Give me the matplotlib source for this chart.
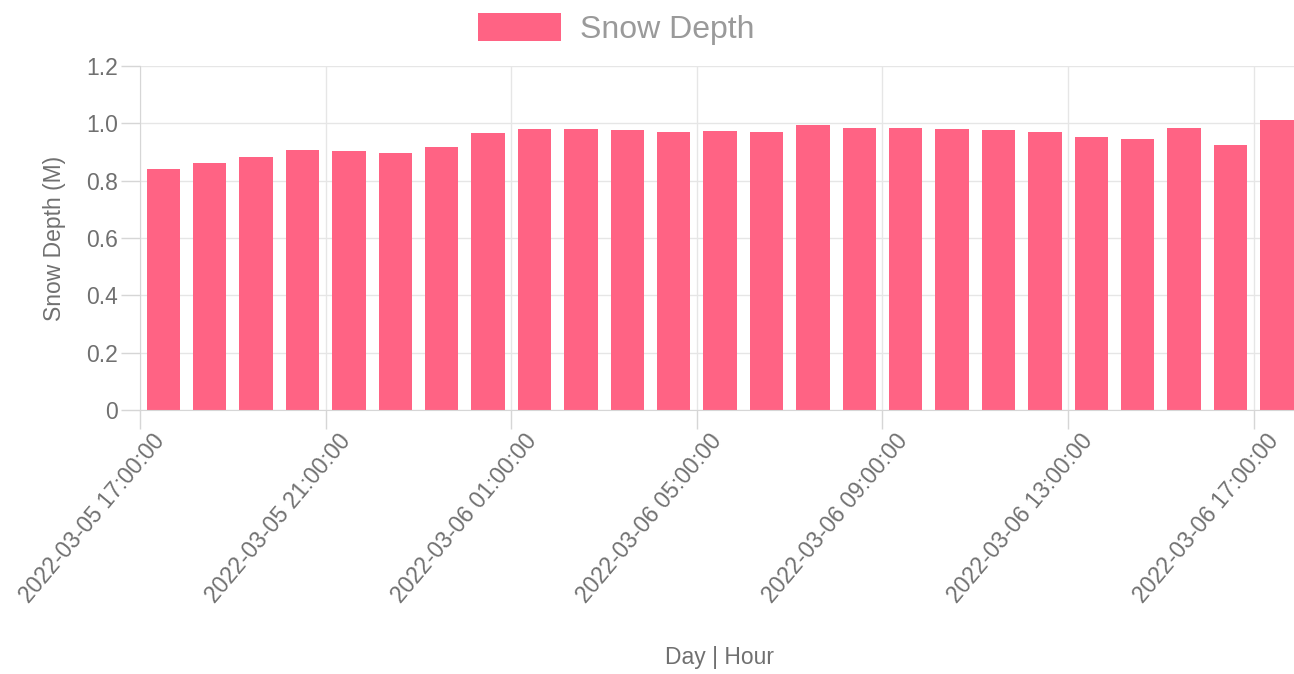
import matplotlib
matplotlib.use("Agg")
import matplotlib.pyplot as plt
import matplotlib.transforms as mtransforms
import numpy as np

# hourly snow depth, 2022-03-05 17:00 .. 2022-03-06 17:00
hours = ["2022-03-05 17:00:00", "2022-03-05 18:00:00", "2022-03-05 19:00:00",
         "2022-03-05 20:00:00", "2022-03-05 21:00:00", "2022-03-05 22:00:00",
         "2022-03-05 23:00:00", "2022-03-06 00:00:00", "2022-03-06 01:00:00",
         "2022-03-06 02:00:00", "2022-03-06 03:00:00", "2022-03-06 04:00:00",
         "2022-03-06 05:00:00", "2022-03-06 06:00:00", "2022-03-06 07:00:00",
         "2022-03-06 08:00:00", "2022-03-06 09:00:00", "2022-03-06 10:00:00",
         "2022-03-06 11:00:00", "2022-03-06 12:00:00", "2022-03-06 13:00:00",
         "2022-03-06 14:00:00", "2022-03-06 15:00:00", "2022-03-06 16:00:00",
         "2022-03-06 17:00:00"]
snow_depth = [0.842, 0.861, 0.882, 0.908, 0.902, 0.895, 0.918, 0.965, 0.981,
              0.979, 0.978, 0.971, 0.972, 0.971, 0.993, 0.985, 0.982, 0.980,
              0.975, 0.971, 0.953, 0.945, 0.985, 0.924, 1.010]
tick_every = 4
y_ticks = [0, 0.2, 0.4, 0.6, 0.8, 1.0, 1.2]

bar_color = "#FF6384"
text_color = "#707070"
grid_color = "#e6e6e6"

plt.rcParams["font.family"] = ["Liberation Sans", "DejaVu Sans"]

fig = plt.figure(figsize=(12.94, 6.74), dpi=100)
ax = fig.add_axes([0.1082, 0.3917, 0.8965, 0.5104])

x = np.arange(len(snow_depth))
ax.bar(x + 0.5, snow_depth, width=0.72, color=bar_color, zorder=2,
       label="Snow Depth")

ax.set_xlim(0, len(snow_depth))
ax.set_ylim(0, 1.2)

tick_pos = x[::tick_every]
ax.set_xticks(tick_pos)
ax.set_xticklabels([hours[i] for i in tick_pos], rotation=50, ha="right",
                   va="center", rotation_mode="anchor")
ax.set_yticks(y_ticks)
ax.set_yticklabels(["0", "0.2", "0.4", "0.6", "0.8", "1.0", "1.2"])

ax.tick_params(axis="both", colors="#d6d6d6", labelcolor=text_color,
               labelsize=16.5, length=14, width=1)
ax.tick_params(axis="y", pad=2)
ax.tick_params(axis="x", pad=4)

# shift rotated date labels a bit right, like the original
offset = mtransforms.ScaledTranslation(0.21, -0.02, fig.dpi_scale_trans)
for lab in ax.get_xticklabels():
    lab.set_transform(lab.get_transform() + offset)

ax.grid(True, color=grid_color, linewidth=1, zorder=0)
ax.set_axisbelow(True)
for side in ["top", "right"]:
    ax.spines[side].set_visible(False)
for side in ["left", "bottom"]:
    ax.spines[side].set_color("#d6d6d6")

ax.set_ylabel("Snow Depth (M)", fontsize=16.5, color=text_color, labelpad=14)
fig.text(0.556, 0.025, "Day | Hour", fontsize=16.5, color=text_color,
         ha="center", va="center")

leg = fig.legend(loc="center", bbox_to_anchor=(0.476, 0.957), frameon=False,
                 fontsize=23, handlelength=2.6, handleheight=1.0,
                 handletextpad=0.6)
for t in leg.get_texts():
    t.set_color("#9a9a9a")

fig.savefig("out.png", dpi=100)
